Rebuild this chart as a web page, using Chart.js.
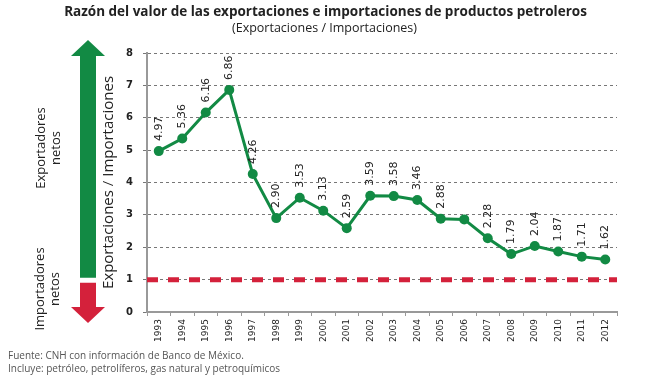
<!DOCTYPE html>
<html><head><meta charset="utf-8">
<script src="https://cdn.jsdelivr.net/npm/chart.js@4"></script>
<style>html,body{margin:0;padding:0;background:#fff}#wrap{width:665px;height:382px;position:relative}</style>
</head><body><div id="wrap"><canvas id="c" width="665" height="382"></canvas></div>
<script>
const years = ["1993","1994","1995","1996","1997","1998","1999","2000","2001","2002","2003","2004","2005","2006","2007","2008","2009","2010","2011","2012"];
const ratio = [4.97,5.36,6.16,6.86,4.26,2.90,3.53,3.13,2.59,3.59,3.58,3.46,2.88,2.86,2.28,1.79,2.04,1.87,1.71,1.62];
const pointLabels = ["4.97","5.36","6.16","6.86","4.26","2.90","3.53","3.13","2.59","3.59","3.58","3.46","2.88","","2.28","1.79","2.04","1.87","1.71","1.62"];
const threshold = 1;
const yTicks = [0,1,2,3,4,5,6,7,8];
const titleText = "Razón del valor de las exportaciones e importaciones de productos petroleros";
const subtitleText = "(Exportaciones / Importaciones)";
const yTitle = "Exportaciones / Importaciones";
const upLabel = ["Exportadores","netos"];
const downLabel = ["Importadores","netos"];
const notes = ["Fuente: CNH con información de Banco de México.","Incluye: petróleo, petrolíferos, gas natural y petroquímicos"];

const GREEN = "#128a44", RED = "#d4213b";
const deco = {
  id: "deco",
  beforeDatasetsDraw(chart) {
    const ctx = chart.ctx, a = chart.chartArea, y = chart.scales.y;
    const ty = y.getPixelForValue(threshold);
    ctx.save();
    ctx.strokeStyle = RED; ctx.lineWidth = 5; ctx.setLineDash([11, 10]);
    ctx.beginPath(); ctx.moveTo(a.left, ty); ctx.lineTo(a.right, ty); ctx.stroke();
    ctx.restore();
  },
  afterDatasetsDraw(chart) {
    const ctx = chart.ctx, meta = chart.getDatasetMeta(0);
    ctx.save();
    ctx.fillStyle = "#222"; ctx.font = "11px 'DejaVu Sans'";
    ctx.textAlign = "left"; ctx.textBaseline = "middle";
    meta.data.forEach((pt, i) => {
      if (!pointLabels[i]) return;
      ctx.save(); ctx.translate(pt.x, pt.y - 10); ctx.rotate(-Math.PI / 2);
      ctx.fillText(pointLabels[i], 0, 0); ctx.restore();
    });
    ctx.restore();
  },
  afterDraw(chart) {
    const ctx = chart.ctx, y = chart.scales.y;
    const W = chart.width;
    ctx.save();
    ctx.fillStyle = "#222"; ctx.textAlign = "center"; ctx.textBaseline = "middle";
    ctx.font = "bold 13.5px 'Open Sans'";
    ctx.fillText(titleText, W / 2 - 7, 12);
    ctx.font = "12.5px 'Open Sans'";
    ctx.fillText(subtitleText, W / 2 - 8, 28);
    const cx = 88, sw = 8, hw = 17, hh = 16;
    const top = y.getPixelForValue(8) - 13, mid = y.getPixelForValue(threshold);
    const bot = y.getPixelForValue(0) + 11;
    ctx.fillStyle = GREEN;
    ctx.beginPath();
    ctx.moveTo(cx, top); ctx.lineTo(cx + hw, top + hh); ctx.lineTo(cx + sw, top + hh);
    ctx.lineTo(cx + sw, mid - 2); ctx.lineTo(cx - sw, mid - 2); ctx.lineTo(cx - sw, top + hh);
    ctx.lineTo(cx - hw, top + hh); ctx.closePath(); ctx.fill();
    ctx.fillStyle = RED;
    ctx.beginPath();
    ctx.moveTo(cx - sw, mid + 3); ctx.lineTo(cx + sw, mid + 3); ctx.lineTo(cx + sw, bot - hh);
    ctx.lineTo(cx + hw, bot - hh); ctx.lineTo(cx, bot); ctx.lineTo(cx - hw, bot - hh);
    ctx.lineTo(cx - sw, bot - hh); ctx.closePath(); ctx.fill();
    ctx.fillStyle = "#222"; ctx.font = "13px 'Open Sans'";
    const drawRot = (lines, x, yc) => {
      ctx.save(); ctx.translate(x, yc); ctx.rotate(-Math.PI / 2);
      lines.forEach((l, i) => ctx.fillText(l, 0, i * 15 - 7.5));
      ctx.restore();
    };
    drawRot(upLabel, 49, 148);
    drawRot(downLabel, 48, 289);
    ctx.textAlign = "left"; ctx.fillStyle = "#555"; ctx.font = "10px 'Open Sans'";
    ctx.fillText(notes[0], 8, 356);
    ctx.fillText(notes[1], 8, 369);
    ctx.restore();
  }
};

new Chart(document.getElementById("c"), {
  type: "line",
  data: { labels: years, datasets: [{
    data: ratio, borderColor: GREEN, backgroundColor: GREEN, borderWidth: 3,
    pointRadius: 5, pointHoverRadius: 5, pointBackgroundColor: GREEN, pointBorderWidth: 0,
    tension: 0, clip: false
  }]},
  options: {
    responsive: false, animation: false, devicePixelRatio: 1,
    layout: { padding: { left: 100, top: 53, right: 48, bottom: 36 } },
    plugins: { legend: { display: false }, tooltip: { enabled: false } },
    scales: {
      x: {
        offset: true,
        afterFit(s) { s.height = 34; },
        grid: { offset: true, drawOnChartArea: false, drawTicks: true, tickLength: 4, color: "#999" },
        border: { color: "#999", width: 2 },
        ticks: { maxRotation: 90, minRotation: 90, autoSkip: false, color: "#222", font: { family: "DejaVu Sans", size: 9 }, padding: 3 }
      },
      y: {
        min: 0, max: 8,
        afterFit(s) { s.width = 47; },
        afterBuildTicks(s) { s.ticks = yTicks.map(v => ({ value: v })); },
        grid: { color: "#777", lineWidth: 1, tickLength: 4, drawTicks: true },
        border: { color: "#999", width: 2, dash: [3, 3] },
        ticks: { color: "#222", font: { family: "DejaVu Sans", size: 10, weight: "bold" }, padding: 10 },
        title: { display: true, text: yTitle, color: "#222", font: { family: "Open Sans", size: 15 }, padding: { top: 0, bottom: 0 } }
      }
    }
  },
  plugins: [deco]
});
</script></body></html>
